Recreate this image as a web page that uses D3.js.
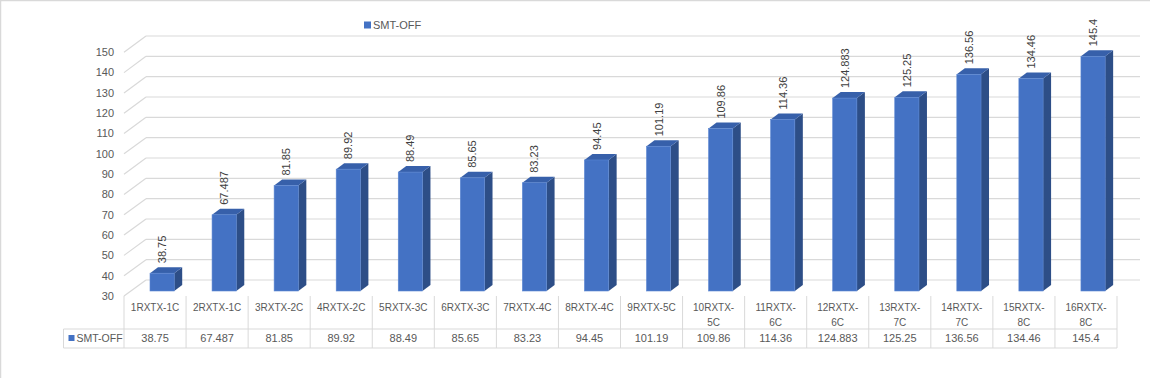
<!DOCTYPE html>
<html><head><meta charset="utf-8">
<script src="https://cdn.jsdelivr.net/npm/d3@7"></script>
<style>body{margin:0;background:#fff}svg{display:block}</style>
</head><body><svg id="c" width="1150" height="378"></svg>
<script>
const categories = ["1RXTX-1C","2RXTX-1C","3RXTX-2C","4RXTX-2C","5RXTX-3C","6RXTX-3C","7RXTX-4C","8RXTX-4C","9RXTX-5C","10RXTX-5C","11RXTX-6C","12RXTX-6C","13RXTX-7C","14RXTX-7C","15RXTX-8C","16RXTX-8C"];
const seriesName = "SMT-OFF";
const values = [38.75,67.487,81.85,89.92,88.49,85.65,83.23,94.45,101.19,109.86,114.36,124.883,125.25,136.56,134.46,145.4];
const yTicks = [30,40,50,60,70,80,90,100,110,120,130,140,150];

const svg = d3.select("#c");
const font = "'Liberation Sans', Arial, sans-serif";
const textCol = "#595959", gridCol = "#d9d9d9";
svg.append("rect").attr("x",0.5).attr("y",0.5).attr("width",1170).attr("height",400)
  .attr("fill","#fff").attr("stroke","#d9d9d9").attr("stroke-width",1.5);

const x = d3.scaleBand().domain(categories).range([124,1117]).padding(0);
const yBack = d3.scaleLinear().domain([30,150]).range([280,36]);
const yFront = d3.scaleLinear().domain([30,150]).range([296,52.3]);
const yBar = d3.scaleLinear().domain([30,150]).range([291,47]);
const wallDx = 22, barDx = 8, barDy = -6;

// grid
const g = svg.append("g");
yTicks.forEach(t=>{
  g.append("line").attr("x1",124).attr("y1",yFront(t)).attr("x2",124+wallDx).attr("y2",yBack(t))
   .attr("stroke",gridCol).attr("stroke-width",1.2);
  g.append("line").attr("x1",124+wallDx).attr("y1",yBack(t)).attr("x2",1140).attr("y2",yBack(t))
   .attr("stroke",gridCol).attr("stroke-width",1.2);
  g.append("text").attr("x",114).attr("y",yFront(t)).attr("dy","0.35em").attr("text-anchor","end")
   .attr("font-family",font).attr("font-size",11).attr("fill",textCol).text(t);
});

// bars
const bw = x.bandwidth();
const bars = svg.append("g").selectAll("g").data(values).join("g");
bars.each(function(v,i){
  const s = d3.select(this);
  const x0 = x(categories[i]) + bw*0.419, w = bw*0.39;
  const yt = yBar(v), yb = yBar(30);
  s.append("polygon").attr("points",[[x0+w,yt],[x0+w+barDx,yt+barDy],[x0+w+barDx,yb+barDy],[x0+w,yb]].join(" "))
    .attr("fill","#2d4e87");
  s.append("polygon").attr("points",[[x0,yt],[x0+barDx,yt+barDy],[x0+w+barDx,yt+barDy],[x0+w,yt]].join(" "))
    .attr("fill","#3760aa");
  s.append("rect").attr("x",x0).attr("y",yt).attr("width",w).attr("height",yb-yt)
    .attr("fill","#4472c4").attr("stroke","#5a86d2").attr("stroke-width",0.6);
  const cx = x0 + w/2, ly = yt - 10;
  s.append("text").attr("transform",`translate(${cx+4},${ly}) rotate(-90)`)
    .attr("font-family",font).attr("font-size",11).attr("fill","#404040").text(String(v));
});

// legend top
svg.append("rect").attr("x",364).attr("y",21.5).attr("width",7).attr("height",7).attr("fill","#4472c4");
svg.append("text").attr("x",373).attr("y",25).attr("dy","0.35em").attr("font-family",font)
  .attr("font-size",11).attr("fill",textCol).text(seriesName);

// data table
const tb = svg.append("g");
const tTop = 296, tMid = 329, tBot = 348;
const xs = categories.map(c=>x(c)).concat([x.range()[1]]);
xs.forEach(xx=>{
  tb.append("line").attr("x1",xx).attr("y1",tTop).attr("x2",xx).attr("y2",tBot).attr("stroke",gridCol);
});
tb.append("line").attr("x1",63.5).attr("y1",tMid).attr("x2",1117).attr("y2",tMid).attr("stroke",gridCol);
tb.append("line").attr("x1",63.5).attr("y1",tBot).attr("x2",1117).attr("y2",tBot).attr("stroke",gridCol);
tb.append("line").attr("x1",63.5).attr("y1",tMid).attr("x2",63.5).attr("y2",tBot).attr("stroke",gridCol);
categories.forEach((c,i)=>{
  const cx = x(c)+bw/2;
  const parts = c.length>8 ? [c.slice(0,c.indexOf("-")+1), c.slice(c.indexOf("-")+1)] : [c];
  const t = tb.append("text").attr("text-anchor","middle").attr("font-family",font)
    .attr("font-size",10).attr("fill",textCol);
  parts.forEach((p,j)=>t.append("tspan").attr("x",cx).attr("y",307.5+j*14.5).attr("dy","0.35em").text(p));
  tb.append("text").attr("x",cx).attr("y",338.5).attr("dy","0.35em").attr("text-anchor","middle")
    .attr("font-family",font).attr("font-size",11).attr("fill",textCol).text(String(values[i]));
});
tb.append("rect").attr("x",68.5).attr("y",335).attr("width",6).attr("height",6).attr("fill","#4472c4");
tb.append("text").attr("x",76.5).attr("y",338.5).attr("dy","0.35em").attr("font-family",font)
  .attr("font-size",10.5).attr("fill",textCol).text(seriesName);
</script></body></html>
